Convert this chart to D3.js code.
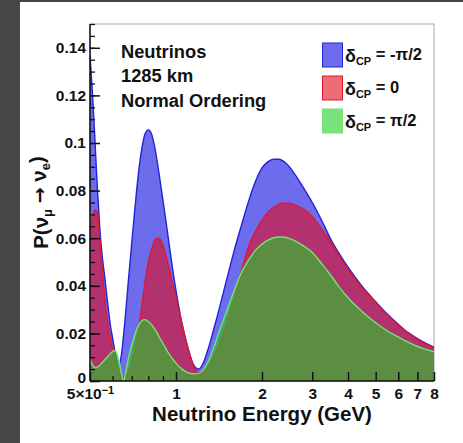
<!DOCTYPE html>
<html>
<head>
<meta charset="utf-8">
<script src="https://cdn.jsdelivr.net/npm/d3@7"></script>
<style>
  html, body { margin: 0; padding: 0; background: #464646; }
  svg { display: block; }
  text { font-family: "Liberation Sans", Arial, Helvetica, sans-serif; font-weight: bold; fill: #111; }
</style>
</head>
<body>
<svg id="chart" width="463" height="443"></svg>
<script>
// Neutrino energy grid (GeV)
const energy = [0.50,0.51,0.52,0.53,0.54,0.55,0.56,0.57,0.58,0.59,0.60,0.61,0.62,0.63,0.64,0.65,0.655,0.66,0.67,0.68,
  0.70,0.72,0.74,0.76,0.78,0.80,0.82,0.84,0.86,0.88,0.90,0.93,0.96,1.00,1.05,1.10,1.15,1.20,1.25,1.30,1.35,1.40,
  1.50,1.60,1.70,1.80,1.90,2.00,2.10,2.20,2.30,2.40,2.50,2.60,2.80,3.00,3.25,3.50,3.75,4.00,4.50,5.00,5.50,6.00,6.50,7.00,7.50,8.00];

// P(numu -> nue) for deltaCP = -pi/2
const probMinusHalfPi = [0.137,0.121,0.102,0.082,0.066,0.054,0.046,0.038,0.030,0.023,0.018,0.013,0.009,0.007,0.009,0.015,0.019,0.023,0.032,0.041,
  0.058,0.074,0.088,0.098,0.104,0.1055,0.104,0.099,0.092,0.084,0.076,0.064,0.052,0.038,0.024,0.014,0.007,0.005,0.008,0.014,0.021,0.028,
  0.042,0.055,0.066,0.076,0.084,0.0895,0.0922,0.0932,0.0932,0.092,0.0898,0.087,0.081,0.075,0.067,0.059,0.053,0.0478,0.0395,0.0333,0.028,0.0238,0.0203,0.0178,0.0158,0.0142];

// P(numu -> nue) for deltaCP = 0
const probZero = [0.062,0.069,0.0718,0.0712,0.061,0.049,0.038,0.029,0.023,0.018,0.0135,0.010,0.007,0.0045,0.0028,0.0018,0.0016,0.0016,0.0022,0.0035,
  0.0075,0.014,0.022,0.032,0.042,0.050,0.055,0.0588,0.060,0.0595,0.057,0.051,0.044,0.035,0.024,0.014,0.0065,0.0035,0.004,0.0065,0.010,0.014,
  0.024,0.035,0.047,0.057,0.063,0.0675,0.071,0.073,0.0743,0.0748,0.0747,0.074,0.0722,0.069,0.0635,0.058,0.052,0.047,0.039,0.033,0.0277,0.0235,0.020,0.0175,0.0155,0.0138];

// P(numu -> nue) for deltaCP = +pi/2
const probPlusHalfPi = [0.0092,0.0068,0.0056,0.0058,0.0066,0.0076,0.0086,0.0096,0.0106,0.0116,0.0124,0.0128,0.0118,0.009,0.005,0.0012,0.0,0.001,0.005,0.009,
  0.015,0.020,0.0235,0.0254,0.0258,0.025,0.0238,0.022,0.020,0.0178,0.0158,0.0128,0.0102,0.0075,0.005,0.0035,0.003,0.0032,0.005,0.0085,0.0135,0.019,
  0.029,0.038,0.046,0.051,0.055,0.0575,0.0592,0.0602,0.0605,0.0604,0.0598,0.059,0.0567,0.054,0.049,0.044,0.039,0.035,0.029,0.0245,0.021,0.0185,0.0163,0.0145,0.0133,0.0123];

const legendValues = ["-\u03C0/2", "0", "\u03C0/2"];
const infoLines = ["Neutrinos", "1285 km", "Normal Ordering"];
const yTickValues = [0, 0.02, 0.04, 0.06, 0.08, 0.1, 0.12, 0.14];
const xLabelTicks = [0.5, 1, 2, 3, 4, 5, 6, 7, 8];
const xMinorTicks = [0.6, 0.7, 0.8, 0.9];

const styles = [
  { fill: "rgb(10,10,225)",  line: "rgb(35,35,215)",  values: probMinusHalfPi },
  { fill: "rgb(225,10,25)",  line: "rgb(225,25,45)",  values: probZero },
  { fill: "rgb(35,205,35)",  line: "rgb(115,228,115)", values: probPlusHalfPi }
];
const fillOpacity = 0.6;

const svg = d3.select("#chart");

// page panel
svg.append("rect").attr("x", 20).attr("y", 2).attr("width", 443).attr("height", 441).attr("fill", "#fff");

const plot = { left: 90, right: 434, top: 24, bottom: 381 };
const x = d3.scaleLog().domain([0.5, 8]).range([plot.left, plot.right]);
const y = d3.scaleLinear().domain([0, 0.15]).range([plot.bottom, plot.top]);

svg.append("clipPath").attr("id", "plotClip")
  .append("rect").attr("x", plot.left).attr("y", plot.top)
  .attr("width", plot.right - plot.left).attr("height", plot.bottom - plot.top);

// frame
svg.append("rect").attr("x", plot.left).attr("y", plot.top)
  .attr("width", plot.right - plot.left).attr("height", plot.bottom - plot.top)
  .attr("fill", "none").attr("stroke", "#a8a8a8").attr("stroke-width", 1);

const area = d3.area().curve(d3.curveMonotoneX)
  .x((d, i) => x(energy[i])).y0(y(0)).y1(d => y(d));
const line = d3.line().curve(d3.curveMonotoneX)
  .x((d, i) => x(energy[i])).y(d => y(d));

const curves = svg.append("g").attr("clip-path", "url(#plotClip)");
styles.forEach(s => {
  curves.append("path").attr("d", area(s.values))
    .attr("fill", s.fill).attr("fill-opacity", fillOpacity);
  curves.append("path").attr("d", line(s.values))
    .attr("fill", "none").attr("stroke", s.line).attr("stroke-width", 1.4);
});

// y axis
const yMinor = d3.range(0, 0.1501, 0.005);
svg.append("g").attr("transform", `translate(${plot.left},0)`)
  .call(d3.axisLeft(y).tickValues(yMinor).tickSizeInner(-5).tickSizeOuter(0).tickFormat(""))
  .call(g => g.select(".domain").remove())
  .selectAll("line").attr("stroke", "#111").attr("stroke-width", 1.3);
const yAxisG = svg.append("g").attr("transform", `translate(${plot.left},0)`)
  .call(d3.axisLeft(y).tickValues(yTickValues).tickSizeInner(-10).tickSizeOuter(0).tickPadding(4)
    .tickFormat(d => d === 0 ? "0" : String(+d.toFixed(2))));
yAxisG.select(".domain").attr("stroke", "#111").attr("stroke-width", 1.5)
  .attr("d", `M0,${plot.top}V${plot.bottom}`);
yAxisG.selectAll(".tick line").attr("stroke", "#111").attr("stroke-width", 1.5);
yAxisG.selectAll(".tick text").style("font-size", "15.5px").attr("fill", "#111");
yAxisG.selectAll(".tick").filter(d => d === 0).select("text").attr("dy", "0.1em");

// x axis
const xAxisMinor = svg.append("g").attr("transform", `translate(0,${plot.bottom})`)
  .call(d3.axisBottom(x).tickValues(xMinorTicks).tickSizeInner(-5).tickSizeOuter(0).tickFormat(""));
xAxisMinor.select(".domain").remove();
xAxisMinor.selectAll("line").attr("stroke", "#111").attr("stroke-width", 1.3);
const xAxisG = svg.append("g").attr("transform", `translate(0,${plot.bottom})`)
  .call(d3.axisBottom(x).tickValues(xLabelTicks).tickSizeInner(-9).tickSizeOuter(0).tickPadding(7)
    .tickFormat(d => String(d)));
xAxisG.select(".domain").attr("stroke", "#111").attr("stroke-width", 1.5)
  .attr("d", `M${plot.left},0H${plot.right}`);
xAxisG.selectAll(".tick line").attr("stroke", "#111").attr("stroke-width", 1.5);
xAxisG.selectAll(".tick text").style("font-size", "15.5px").attr("fill", "#111");
xAxisG.selectAll(".tick").filter(d => d === 0.5).select("text")
  .text(null)
  .call(t => {
    t.append("tspan").text("5\u00D710");
    t.append("tspan").attr("dy", "-0.45em").style("font-size", "11px").text("\u22121");
  });

// axis titles
svg.append("text").attr("x", (plot.left + plot.right) / 2).attr("y", 420.5)
  .attr("text-anchor", "middle").style("font-size", "20.5px").text("Neutrino Energy (GeV)");

const yTitle = svg.append("text")
  .attr("transform", `translate(48,${(plot.top + plot.bottom) / 2}) rotate(-90)`)
  .attr("text-anchor", "middle").style("font-size", "20.5px");
yTitle.append("tspan").text("P(\u03BD");
yTitle.append("tspan").attr("dy", "0.3em").style("font-size", "13px").text("\u03BC");
yTitle.append("tspan").attr("dy", "-0.3em").text(" ");
yTitle.append("tspan").style("font-family", "'DejaVu Sans'").style("font-size", "19px").text("\u2192");
yTitle.append("tspan").text(" \u03BD");
yTitle.append("tspan").attr("dy", "0.3em").style("font-size", "13px").text("e");
yTitle.append("tspan").attr("dy", "-0.3em").text(")");

// info text
svg.append("g").selectAll("text").data(infoLines).join("text")
  .attr("x", 121).attr("y", (d, i) => 57.5 + i * 24.5)
  .style("font-size", "18.3px").text(d => d);

// legend
const legend = svg.append("g");
styles.forEach((s, i) => {
  const ly = 43 + i * 33;
  legend.append("rect").attr("x", 322.5).attr("y", ly).attr("width", 20).attr("height", 24)
    .attr("fill", s.fill).attr("fill-opacity", fillOpacity)
    .attr("stroke", s.line).attr("stroke-width", 1);
  const t = legend.append("text").attr("x", 345).attr("y", ly + 19).style("font-size", "16.5px");
  t.append("tspan").style("font-size", "18px").text("\u03B4");
  t.append("tspan").attr("dy", "0.3em").style("font-size", "11px").text("CP");
  t.append("tspan").attr("dy", "-0.3em").text(" = " + legendValues[i]);
});
</script>
</body>
</html>
